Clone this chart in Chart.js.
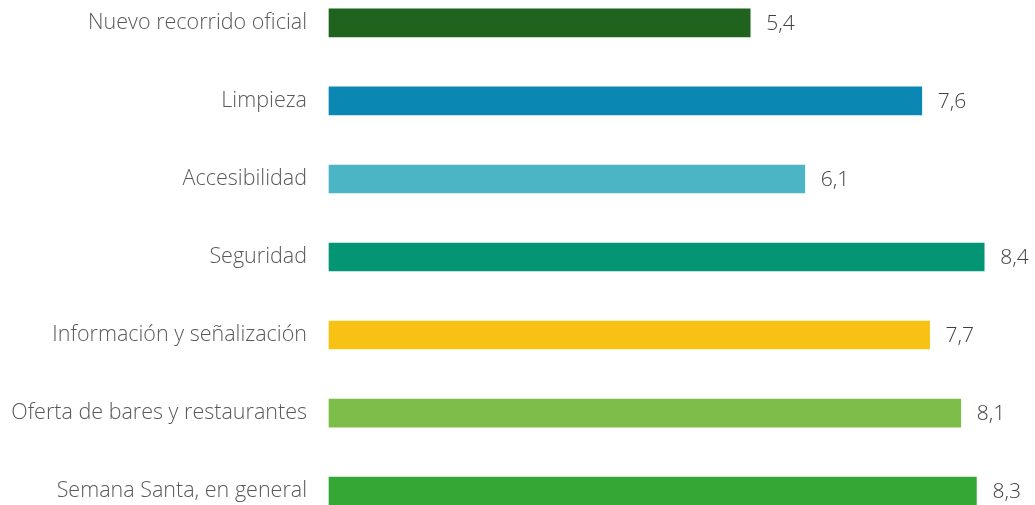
<!DOCTYPE html>
<html>
<head>
<meta charset="utf-8">
<script src="https://cdn.jsdelivr.net/npm/chart.js@4"></script>
<style>
  html, body { margin: 0; padding: 0; background: #fff; overflow: hidden; }
  #wrap { width: 1035px; height: 522px; margin-top: -4px; }
</style>
</head>
<body>
<div id="wrap"><canvas id="myChart"></canvas></div>
<script>
const categories = [
  "Nuevo recorrido oficial",
  "Limpieza",
  "Accesibilidad",
  "Seguridad",
  "Información y señalización",
  "Oferta de bares y restaurantes",
  "Semana Santa, en general"
];
const scores = [5.4, 7.6, 6.1, 8.4, 7.7, 8.1, 8.3];
const barColors = ["#20631F", "#0A87B3", "#4BB5C6", "#039574", "#F8C214", "#7DBE4A", "#35A734"];

// value labels to the right of each bar
const valueLabels = {
  id: "valueLabels",
  afterDatasetsDraw(chart) {
    const ctx = chart.ctx;
    const meta = chart.getDatasetMeta(0);
    ctx.save();
    ctx.font = "300 21px 'Open Sans'";
    ctx.fillStyle = "#404040";
    ctx.textAlign = "left";
    ctx.textBaseline = "middle";
    meta.data.forEach((bar, i) => {
      ctx.fillText(scores[i].toFixed(1).replace(".", ","), bar.x + 16, bar.y + 1);
    });
    ctx.restore();
  }
};

const ctx = document.getElementById("myChart").getContext("2d");
new Chart(ctx, {
  type: "bar",
  data: {
    labels: categories,
    datasets: [{
      data: scores,
      backgroundColor: barColors,
      barThickness: 28,
      borderWidth: 0,
      clip: false
    }]
  },
  options: {
    indexAxis: "y",
    responsive: true,
    maintainAspectRatio: false,
    animation: false,
    layout: { padding: { top: 0, bottom: 0, right: 4, left: 0 } },
    plugins: {
      legend: { display: false },
      tooltip: { enabled: false }
    },
    scales: {
      x: {
        min: 0,
        max: 9,
        display: false
      },
      y: {
        offset: false,
        grid: { display: false },
        border: { display: false },
        afterFit(scale) { scale.width = 329; },
        ticks: {
          color: "#595959",
          padding: 14,
          font: { family: "'Open Sans'", size: 21.5, weight: 300 }
        }
      }
    }
  },
  plugins: [valueLabels]
});
</script>
</body>
</html>
